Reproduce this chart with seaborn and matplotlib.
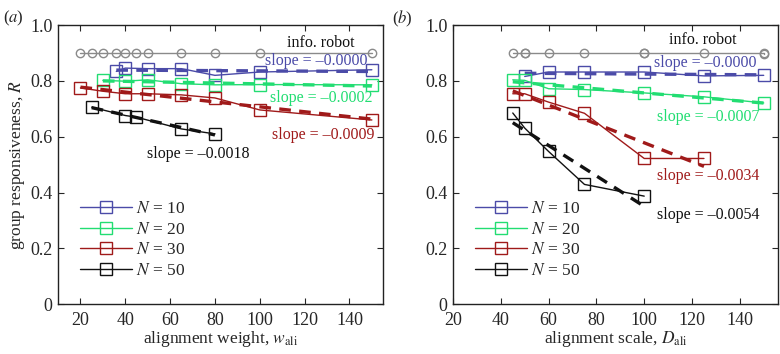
import numpy as np
import pandas as pd
import matplotlib
matplotlib.use("Agg")
import matplotlib.pyplot as plt
from matplotlib.lines import Line2D
import seaborn as sns

sns.set_style("ticks")
plt.rcParams["font.family"] = ["Liberation Serif", "DejaVu Serif"]
plt.rcParams["mathtext.fontset"] = "stix"
plt.rcParams["font.size"] = 11

# ---- data ----
group_labels = ["10", "20", "30", "50"]
colors = ["#4b4ba8", "#22dd72", "#a01a1a", "#111111"]
robot_color = "#8a8a8a"

# panel (a): alignment weight
a_robot_x = [20, 25, 30, 36, 40, 45, 50, 65, 80, 100, 150]
a_robot_y = [0.90, 0.90, 0.90, 0.90, 0.90, 0.90, 0.90, 0.90, 0.90, 0.90, 0.90]
a_x = [
    [36, 40, 50, 65, 80, 100, 150],
    [30, 40, 50, 65, 80, 100, 150],
    [20, 30, 40, 50, 65, 80, 100, 150],
    [25, 40, 45, 65, 80],
]
a_y = [
    [0.834, 0.846, 0.844, 0.844, 0.820, 0.832, 0.840],
    [0.802, 0.799, 0.804, 0.790, 0.786, 0.787, 0.786],
    [0.775, 0.763, 0.754, 0.754, 0.750, 0.739, 0.696, 0.660],
    [0.706, 0.676, 0.670, 0.628, 0.610],
]
a_slopes = ["–0.0000", "–0.0002", "–0.0009", "–0.0018"]

# panel (b): alignment scale
b_robot_x = [45, 50, 50, 60, 75, 100, 100, 125, 150, 150]
b_robot_y = [0.90, 0.90, 0.90, 0.90, 0.90, 0.90, 0.90, 0.90, 0.90, 0.895]
b_x = [
    [50, 60, 75, 100, 125, 150],
    [45, 50, 60, 75, 100, 125, 150],
    [45, 50, 60, 75, 100, 125],
    [45, 50, 60, 75, 100],
]
b_y = [
    [0.816, 0.832, 0.832, 0.832, 0.818, 0.820],
    [0.804, 0.802, 0.772, 0.769, 0.757, 0.743, 0.721],
    [0.754, 0.754, 0.724, 0.684, 0.522, 0.522],
    [0.685, 0.631, 0.547, 0.429, 0.387],
]
b_slopes = ["–0.0000", "–0.0007", "–0.0034", "–0.0054"]

fig = plt.figure(figsize=(7.8, 3.54), dpi=100)
ax_a = fig.add_axes([0.0744, 0.141, 0.4167, 0.788])
ax_b = fig.add_axes([0.5808, 0.141, 0.4167, 0.788])


def draw_panel(ax, rx, ry, xs, ys, slopes, label_pos, robot_pos, xlim, xlabel):
    sns.lineplot(x=rx, y=ry, ax=ax, color=robot_color, lw=1.0, marker="o",
                 markersize=6, markerfacecolor="none", markeredgecolor=robot_color,
                 markeredgewidth=1.0, estimator=None, sort=False)
    for x, y, c in zip(xs, ys, colors):
        df = pd.DataFrame({"x": x, "y": y})
        sns.regplot(data=df, x="x", y="y", ax=ax, scatter=False, ci=None, truncate=True,
                    line_kws=dict(color=c, lw=2.4, ls=(0, (3.5, 2.5))))
        sns.lineplot(data=df, x="x", y="y", ax=ax, color=c, lw=1.0, marker="s",
                     markersize=9, markerfacecolor="none", markeredgecolor=c,
                     markeredgewidth=1.0, estimator=None, sort=False)
    for s, c, (tx, ty) in zip(slopes, colors, label_pos):
        ax.text(tx, ty, f"slope = {s}", color=c, ha="center", va="center", fontsize=11.5)
    ax.text(robot_pos[0], robot_pos[1], "info. robot", color="#111111",
            ha="center", va="center", fontsize=11.5)
    ax.set_xlim(*xlim)
    ax.set_ylim(0, 1.0)
    ax.set_xticks([20, 40, 60, 80, 100, 120, 140])
    ax.set_yticks([0, 0.2, 0.4, 0.6, 0.8, 1.0])
    ax.set_yticklabels(["0", "0.2", "0.4", "0.6", "0.8", "1.0"])
    ax.tick_params(direction="in", top=True, right=True, length=4, width=0.8,
                   labelsize=13, pad=4)
    ax.tick_params(axis="x", pad=6)
    for sp in ax.spines.values():
        sp.set_linewidth(1.0)
        sp.set_color("#222222")
    ax.set_xlabel(xlabel, fontsize=12.5, labelpad=0)
    ax.set_ylabel("")
    handles = [Line2D([0], [0], color=c, lw=1.0, marker="s", markersize=9,
                      markerfacecolor="none", markeredgecolor=c) for c in colors]
    ax.legend(handles, [f"$N$ = {g}" for g in group_labels], loc="lower left",
              bbox_to_anchor=(0.02, 0.035), frameon=False, handlelength=3.0,
              labelspacing=0.25, handletextpad=0.2, fontsize=12.5)


draw_panel(ax_a, a_robot_x, a_robot_y, a_x, a_y, a_slopes,
           [(125, 0.871), (127.3, 0.738), (128.2, 0.606), (72.7, 0.538)],
           (127.3, 0.935), (10, 155), r"alignment weight, $w_{\mathrm{ali}}$")
draw_panel(ax_b, b_robot_x, b_robot_y, b_x, b_y, b_slopes,
           [(125.4, 0.864), (126.7, 0.670), (126.7, 0.459), (126.7, 0.319)],
           (124.6, 0.946), (20, 156), r"alignment scale, $D_{\mathrm{ali}}$")

ax_a.set_ylabel("group responsiveness, $R$", fontsize=12.5, labelpad=2)
fig.text(0.004, 0.975, "($a$)", fontsize=12, va="top", ha="left")
fig.text(0.503, 0.975, "($b$)", fontsize=12, va="top", ha="left")

fig.savefig("out.png", dpi=100)
